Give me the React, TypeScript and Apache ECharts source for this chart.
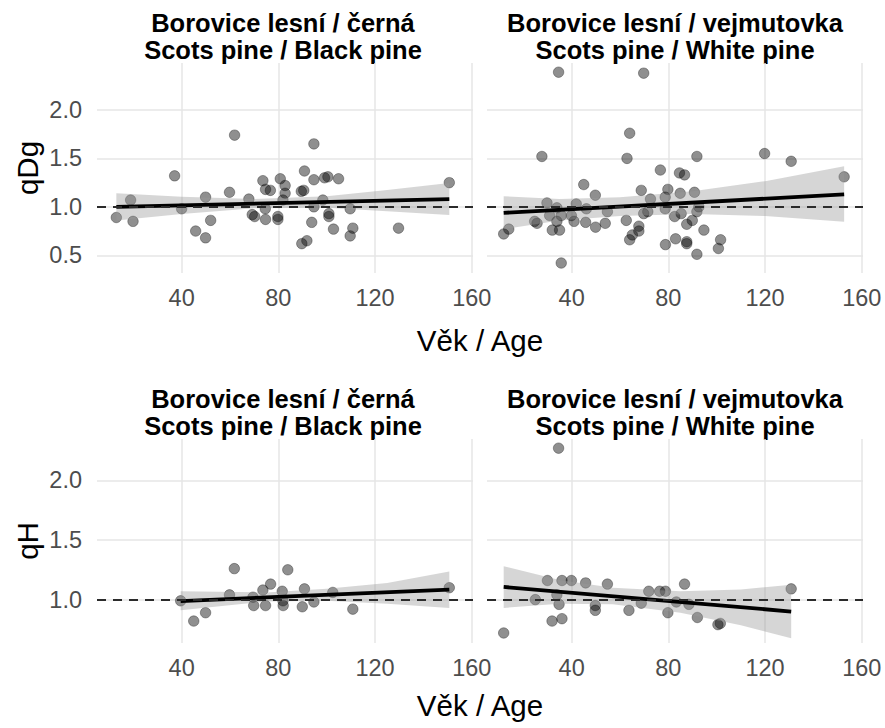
import { useEffect, useRef } from "react";
import * as echarts from "echarts";

const FONT = '"Liberation Sans", Arial, Helvetica, sans-serif';

// ---- qDg, Scots pine / Black pine ----
const ageDgBlack = [
  61.9, 37.1, 18.9, 13.0, 19.9, 40.0, 49.9, 52.0, 45.8, 49.9, 59.8, 67.8, 69.2, 70.2, 74.7, 73.6,
  74.7, 76.7, 74.6, 79.8, 79.8, 80.8, 82.8, 82.8, 81.9, 94.7, 90.8, 94.7, 99.1, 100.5, 104.9, 89.5,
  90.5, 98.4, 94.7, 100.9, 100.9, 109.7, 93.8, 102.8, 110.8, 109.7, 89.7, 91.8, 129.7, 150.7,
];
const qDgBlack = [
  1.74, 1.32, 1.07, 0.89, 0.85, 0.98, 1.1, 0.86, 0.75, 0.68, 1.15, 1.08, 0.92, 0.9, 0.87, 1.27,
  1.18, 1.17, 0.98, 0.9, 0.87, 1.29, 1.22, 1.14, 1.07, 1.65, 1.37, 1.28, 1.3, 1.31, 1.29, 1.16,
  1.17, 1.07, 1.0, 0.93, 0.9, 0.98, 0.84, 0.77, 0.78, 0.7, 0.62, 0.65, 0.78, 1.25,
];

// ---- qDg, Scots pine / White pine ----
const ageDgWhite = [
  34.6, 69.8, 64.0, 62.9, 27.7, 76.7, 45.0, 49.8, 68.8, 79.8, 78.7, 72.6, 29.8, 33.9, 41.9, 30.9,
  35.7, 39.9, 46.1, 54.8, 69.8, 71.5, 78.7, 82.6, 24.7, 25.7, 33.9, 41.0, 45.8, 62.6, 49.9, 53.9,
  67.8, 67.8, 65.1, 64.0, 14.0, 11.9, 32.0, 35.0, 78.8, 83.0, 35.7, 91.8, 119.8, 130.8, 152.7, 84.6,
  86.7, 84.9, 90.8, 92.6, 85.3, 91.8, 87.6, 89.9, 94.7, 87.6, 87.6, 101.6, 100.7, 91.8,
];
const qDgWhite = [
  2.39, 2.38, 1.76, 1.5, 1.52, 1.38, 1.23, 1.12, 1.17, 1.18, 1.1, 1.08, 1.04, 0.99, 1.03, 0.91,
  0.91, 0.91, 0.98, 0.95, 0.93, 0.95, 0.98, 0.9, 0.85, 0.83, 0.85, 0.85, 0.84, 0.86, 0.79, 0.83,
  0.8, 0.75, 0.71, 0.66, 0.77, 0.72, 0.76, 0.76, 0.61, 0.67, 0.42, 1.52, 1.55, 1.47, 1.31, 1.35,
  1.33, 1.14, 1.15, 1.0, 0.93, 0.95, 0.82, 0.86, 0.76, 0.64, 0.62, 0.66, 0.57, 0.51,
];

// ---- qH, Scots pine / Black pine ----
const ageHBlack = [
  61.8, 83.9, 76.8, 73.6, 81.6, 59.8, 69.5, 39.6, 81.9, 69.8, 74.7, 82.0, 49.9, 45.0, 90.8, 102.5,
  89.9, 94.7, 110.8, 150.7,
];
const qHBlack = [
  1.26, 1.25, 1.13, 1.08, 1.07, 1.04, 1.02, 0.99, 0.99, 0.95, 0.95, 0.95, 0.89, 0.82, 1.09, 1.06,
  0.94, 0.98, 0.92, 1.1,
];

// ---- qH, Scots pine / White pine ----
const ageHWhite = [
  11.9, 25.0, 30.0, 36.0, 39.9, 33.9, 34.8, 31.9, 36.0, 45.8, 54.8, 49.8, 49.8, 63.7, 68.8, 71.9,
  76.4, 78.8, 79.8, 83.3, 86.7, 88.5, 92.0, 100.5, 101.5, 130.8, 34.6,
];
const qHWhite = [
  0.72, 1.0, 1.16, 1.16, 1.16, 1.04, 0.96, 0.82, 0.84, 1.14, 1.13, 0.95, 0.91, 0.91, 0.97, 1.07,
  1.07, 1.07, 0.89, 0.98, 1.13, 0.96, 0.85, 0.79, 0.8, 1.09, 2.27,
];

// Linear fits (end points) and their confidence bands
const fitAgeDgBlack = [13.0, 150.7];
const fitDgBlack = [1.0, 1.08];
const bandAgeDgBlack = [13, 40, 70, 100, 125, 150.7];
const bandLoDgBlack = [0.86, 0.925, 0.985, 0.99, 0.955, 0.915];
const bandHiDgBlack = [1.14, 1.105, 1.08, 1.11, 1.175, 1.245];

const fitAgeDgWhite = [11.9, 152.7];
const fitDgWhite = [0.938, 1.128];
const bandAgeDgWhite = [11.9, 35, 60, 90, 120, 152.7];
const bandLoDgWhite = [0.77, 0.86, 0.905, 0.925, 0.905, 0.845];
const bandHiDgWhite = [1.11, 1.08, 1.1, 1.16, 1.265, 1.42];

const fitAgeHBlack = [39.6, 150.7];
const fitHBlack = [0.988, 1.084];
const bandAgeHBlack = [39.6, 75, 100, 125, 150.7];
const bandLoHBlack = [0.91, 0.985, 0.99, 0.965, 0.93];
const bandHiHBlack = [1.07, 1.06, 1.09, 1.14, 1.235];

const fitAgeHWhite = [11.9, 130.8];
const fitHWhite = [1.106, 0.9];
const bandAgeHWhite = [11.9, 35, 57, 85, 110, 130.8];
const bandLoHWhite = [0.93, 0.965, 0.96, 0.89, 0.785, 0.675];
const bandHiHWhite = [1.28, 1.165, 1.1, 1.07, 1.085, 1.125];

// Axis ticks and ranges
const ageTicks = [40, 80, 120, 160];
const qDgTicks = [0.5, 1.0, 1.5, 2.0];
const qHTicks = [1.0, 1.5, 2.0];
const ageRange = [5, 160.5];
const qDgRange = [0.317, 2.485];
const qHRange = [0.636, 2.347];

const titleBlack = ["Borovice lesní / černá", "Scots pine / Black pine"];
const titleWhite = ["Borovice lesní / vejmutovka", "Scots pine / White pine"];

type Panel = {
  grid: { left: number; top: number; width: number; height: number };
  ages: number[];
  values: number[];
  fitAge: number[];
  fit: number[];
  bandAge: number[];
  bandLo: number[];
  bandHi: number[];
  yRange: number[];
  yTicks: number[];
  showY: boolean;
};

const panels: Panel[] = [
  {
    grid: { left: 97, top: 63, width: 376, height: 210 },
    ages: ageDgBlack, values: qDgBlack, fitAge: fitAgeDgBlack, fit: fitDgBlack,
    bandAge: bandAgeDgBlack, bandLo: bandLoDgBlack, bandHi: bandHiDgBlack,
    yRange: qDgRange, yTicks: qDgTicks, showY: true,
  },
  {
    grid: { left: 487, top: 63, width: 376, height: 210 },
    ages: ageDgWhite, values: qDgWhite, fitAge: fitAgeDgWhite, fit: fitDgWhite,
    bandAge: bandAgeDgWhite, bandLo: bandLoDgWhite, bandHi: bandHiDgWhite,
    yRange: qDgRange, yTicks: qDgTicks, showY: false,
  },
  {
    grid: { left: 97, top: 439, width: 376, height: 204 },
    ages: ageHBlack, values: qHBlack, fitAge: fitAgeHBlack, fit: fitHBlack,
    bandAge: bandAgeHBlack, bandLo: bandLoHBlack, bandHi: bandHiHBlack,
    yRange: qHRange, yTicks: qHTicks, showY: true,
  },
  {
    grid: { left: 487, top: 439, width: 376, height: 204 },
    ages: ageHWhite, values: qHWhite, fitAge: fitAgeHWhite, fit: fitHWhite,
    bandAge: bandAgeHWhite, bandLo: bandLoHWhite, bandHi: bandHiHWhite,
    yRange: qHRange, yTicks: qHTicks, showY: false,
  },
];

const gridLine = { show: true, lineStyle: { color: "#e6e6e6", width: 1.5 } };
const tickText = { fontSize: 23.5, color: "#4d4d4d", fontFamily: FONT };

function text(x: number, y: number, s: string, font: string, extra: any = {}) {
  return {
    type: "text",
    x,
    y,
    silent: true,
    ...extra,
    style: {
      text: s,
      font,
      fill: "#000",
      align: "center",
      verticalAlign: "middle",
      textAlign: "center",
      textVerticalAlign: "middle",
    },
  };
}

export default function App() {
  const ref = useRef<HTMLDivElement>(null);

  useEffect(() => {
    if (!ref.current) return;
    const chart = echarts.init(ref.current, null, { renderer: "svg" });

    const series: any[] = [];
    panels.forEach((p, i) => {
      series.push({
        type: "scatter",
        xAxisIndex: i,
        yAxisIndex: i,
        data: p.ages.map((a, k) => [a, p.values[k]]),
        symbolSize: 10.5,
        itemStyle: {
          color: "rgba(0,0,0,0.55)",
          borderColor: "rgba(0,0,0,0.4)",
          borderWidth: 1,
        },
        silent: true,
        z: 2,
      });
      series.push({
        type: "custom",
        xAxisIndex: i,
        yAxisIndex: i,
        data: p.bandAge.map((a, k) => [a, p.bandLo[k], p.bandHi[k]]),
        encode: { x: 0, y: [1, 2] },
        silent: true,
        z: 3,
        renderItem: (params: any, api: any) => {
          if (params.dataIndex !== 0) return null;
          const upper = p.bandAge.map((a, k) => api.coord([a, p.bandHi[k]]));
          const lower = p.bandAge.map((a, k) => api.coord([a, p.bandLo[k]])).reverse();
          return {
            type: "polygon",
            shape: { points: upper.concat(lower) },
            style: { fill: "rgba(153,153,153,0.4)", stroke: "none" },
          };
        },
      });
      series.push({
        type: "line",
        xAxisIndex: i,
        yAxisIndex: i,
        data: p.fitAge.map((a, k) => [a, p.fit[k]]),
        showSymbol: false,
        silent: true,
        lineStyle: { color: "#000", width: 3.8 },
        z: 4,
        markLine: {
          silent: true,
          symbol: "none",
          label: { show: false },
          lineStyle: { color: "#2b2b2b", width: 2.2, type: [9, 7] },
          data: [{ yAxis: 1 }],
          z: 5,
        },
      });
    });

    chart.setOption({
      animation: false,
      backgroundColor: "#fff",
      grid: panels.map((p) => ({ ...p.grid, containLabel: false })),
      xAxis: panels.map((_, i) => ({
        gridIndex: i,
        type: "value",
        min: ageRange[0],
        max: ageRange[1],
        axisLine: { show: false },
        axisTick: { show: false, customValues: ageTicks },
        axisLabel: { ...tickText, margin: 13, customValues: ageTicks },
        splitLine: gridLine,
      })),
      yAxis: panels.map((p, i) => ({
        gridIndex: i,
        type: "value",
        min: p.yRange[0],
        max: p.yRange[1],
        axisLine: { show: false },
        axisTick: { show: false, customValues: p.yTicks },
        axisLabel: {
          ...tickText,
          show: p.showY,
          margin: 15,
          customValues: p.yTicks,
          formatter: (v: number) => v.toFixed(1),
        },
        splitLine: gridLine,
      })),
      series,
      graphic: [
        text(283, 23.2, titleBlack[0], `bold 25.5px ${FONT}`),
        text(283, 50.2, titleBlack[1], `bold 25.5px ${FONT}`),
        text(675, 23.2, titleWhite[0], `bold 25.5px ${FONT}`),
        text(675, 50.2, titleWhite[1], `bold 25.5px ${FONT}`),
        text(283, 399.2, titleBlack[0], `bold 25.5px ${FONT}`),
        text(283, 426.2, titleBlack[1], `bold 25.5px ${FONT}`),
        text(675, 399.2, titleWhite[0], `bold 25.5px ${FONT}`),
        text(675, 426.2, titleWhite[1], `bold 25.5px ${FONT}`),
        text(480, 340, "Věk / Age", `29.5px ${FONT}`),
        text(480, 705, "Věk / Age", `29.5px ${FONT}`),
        text(27, 168, "qDg", `29.5px ${FONT}`, { rotation: Math.PI / 2 }),
        text(27, 541, "qH", `29.5px ${FONT}`, { rotation: Math.PI / 2 }),
      ],
    });

    return () => chart.dispose();
  }, []);

  return (
    <div
      ref={ref}
      style={{ position: "fixed", left: 0, top: 0, width: 885, height: 728, background: "#fff" }}
    />
  );
}
